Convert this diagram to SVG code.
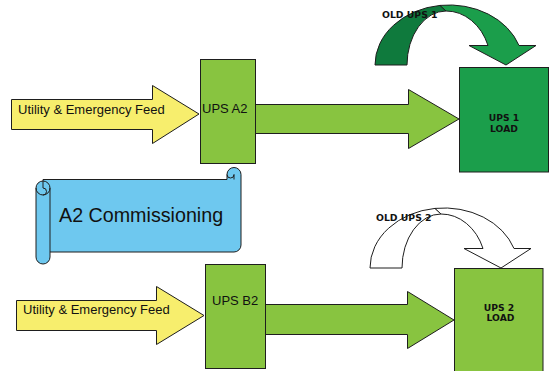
<svg xmlns="http://www.w3.org/2000/svg" width="551" height="371" viewBox="0 0 551 371">
<style>
.ln{stroke:#1e1e1e;stroke-width:1;stroke-linejoin:miter}
.yel{fill:#f7ee6d}
.grn{fill:#88c440}
.dk{fill:#1b9e4b}
.dkb{fill:#0f7a3d}
.wh{fill:#ffffff}
.blu{fill:#6ec8ef}
.t{font-family:"Liberation Sans",Arial,sans-serif;fill:#111}
.b{font-family:"DejaVu Sans",sans-serif;font-weight:bold;fill:#111}
</style>
<rect width="551" height="371" fill="#ffffff"/>
<g id="connectors">
  <path id="feed-a" class="ln yel" d="M11.5,99.5 H152.5 V85.5 L199,114 L152.5,143.5 V129.5 H11.5 Z"/>
  <path id="feed-b" class="ln yel" d="M16.5,300.5 H156.5 V286.5 L204,315.5 L156.5,344.5 V330.5 H16.5 Z"/>
  <path id="a2-to-load1" class="ln grn" d="M255.5,104.5 H408.5 V89.5 L459,119 L408.5,148.5 V133.5 H255.5 Z"/>
  <path id="b2-to-load2" class="ln grn" d="M265.5,304.5 H407.5 V291.5 L454,320 L407.5,348.5 V334.5 H265.5 Z"/>
  <g id="old-ups1-arrow">
    <path class="ln dkb" d="M375,65 A74,60 0 0 1 440,5.4 L446,11 A39,54 0 0 0 407,65 Z"/>
    <path class="ln dk" d="M440,5.4 A74,60 0 0 1 519,45.5 L536,45.5 L506,65 L469,45.5 L488,45.5 A45,54 0 0 0 446,11 Z"/>
  </g>
  <g id="old-ups2-arrow" transform="translate(-5,203)">
    <path class="ln wh" d="M375,65 A74,60 0 0 1 440,5.4 L446,11 A39,54 0 0 0 407,65 Z"/>
    <path class="ln wh" d="M440,5.4 A74,60 0 0 1 519,45.5 L536,45.5 L506,65 L469,45.5 L488,45.5 A45,54 0 0 0 446,11 Z"/>
  </g>
</g>
<g id="feed-a-label"><text class="t" x="18" y="114" font-size="13">Utility &amp; Emergency Feed</text></g>
<g id="feed-b-label"><text class="t" x="23" y="314.3" font-size="13">Utility &amp; Emergency Feed</text></g>
<g id="ups-a2">
  <rect class="ln grn" x="200.5" y="59.5" width="55" height="104"/>
  <text class="t" x="202" y="113.3" font-size="13">UPS A2</text>
</g>
<g id="ups-b2">
  <rect class="ln grn" x="205.5" y="264.5" width="60" height="104"/>
  <text class="t" x="212" y="305" font-size="13">UPS B2</text>
</g>
<g id="ups1-load">
  <rect class="ln dk" x="459.5" y="67.5" width="89" height="104.5"/>
  <text class="b" x="504" y="121" font-size="9.2" text-anchor="middle">UPS 1</text>
  <text class="b" x="504" y="132" font-size="9.2" text-anchor="middle">LOAD</text>
</g>
<g id="ups2-load">
  <rect class="ln grn" x="454.5" y="268.5" width="88.5" height="110"/>
  <text class="b" x="499" y="311" font-size="9.2" text-anchor="middle">UPS 2</text>
  <text class="b" x="500.5" y="321" font-size="9.2" text-anchor="middle">LOAD</text>
</g>
<g id="old-ups1-label"><text class="b" x="382" y="18" font-size="9.3">OLD UPS 1</text></g>
<g id="old-ups2-label"><text class="b" x="376" y="221" font-size="9.3">OLD UPS 2</text></g>
<g id="a2-commissioning">
  <path class="ln blu" d="M43,179.5 H227 V174.5 A7,7 0 0 1 241,174.5 V245 A7,7 0 0 1 234,252 H43 Z"/>
  <path class="ln" fill="none" d="M227,174.5 A3.5,3.5 0 0 0 234,174.5 V179.5"/>
  <path class="ln blu" d="M36,188 V257 A7,7 0 0 0 50,257 V188 A7,7 0 0 0 36,188 Z"/>
  <path class="ln" fill="none" d="M36,188 A7,7 0 0 0 50,188 M43,181 V188 A3.5,3.5 0 0 1 43,195"/>
  <text class="t" x="59" y="222" font-size="19.7">A2 Commissioning</text>
</g>
</svg>
